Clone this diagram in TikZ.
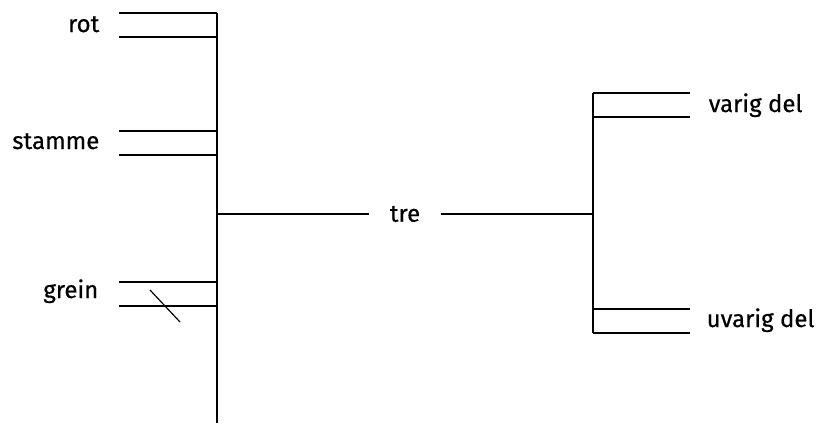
\documentclass[tikz,border=0pt]{standalone}
\usepackage{fontspec}
\setmainfont{Fira Sans}[UprightFeatures={FakeBold=0.5}]
\begin{document}
\begin{tikzpicture}[x=1pt,y=-1pt,line width=1.4pt,
	lab/.style={font=\fontsize{24}{28}\selectfont,inner sep=0pt}]
		\useasboundingbox (0,0) rectangle (819,423);
		% left trunk
		\coordinate (ltop) at (217,13);
		\coordinate (lbot) at (217,423);
		\coordinate (lmid) at (217,214);
		\draw (ltop) -- (lbot);
		\draw (119,13) -- (ltop);
		\draw (119,37) -- (217,37);
		\draw (119,131) -- (217,131);
		\draw (119,155) -- (217,155);
		\draw (119,282) -- (217,282);
		\draw (119,306) -- (217,306);
		\draw [line width=1.2pt] (150,290) -- (180,322);
		\node [lab,anchor=base east] (rot) at (100,32) {rot};
		\node [lab,anchor=base east] (stamme) at (100,149) {stamme};
		\node [lab,anchor=base east] (grein) at (99,298) {grein};
		% middle
		\node [lab,minimum width=70pt] (tre) at (405,214) {tre};
		\coordinate (rtop) at (593,93);
		\coordinate (rbot) at (593,333);
		\coordinate (rmid) at (593,214);
		\draw (lmid) -- (tre.west);
		\draw (tre.east) -- (rmid);
		% right trunk
		\draw (rtop) -- (rbot);
		\draw (rtop) -- (690,93);
		\draw (593,117) -- (690,117);
		\draw (593,309) -- (690,309);
		\draw (rbot) -- (690,333);
		\node [lab,anchor=base west] (varig) at (708,112) {varig del};
		\node [lab,anchor=base west] (uvarig) at (706,327) {uvarig del};
\end{tikzpicture}
\end{document}
